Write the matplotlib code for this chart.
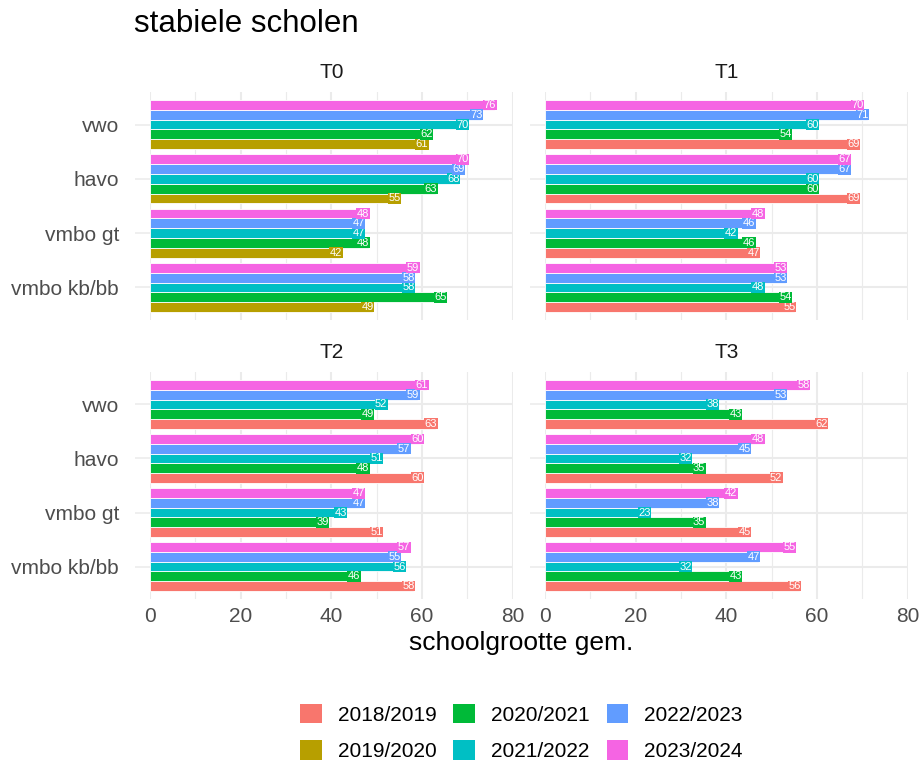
import numpy as np
import matplotlib
matplotlib.use("Agg")
import matplotlib.pyplot as plt
from matplotlib.patches import Patch

plt.rcParams["font.family"] = ["Liberation Sans", "DejaVu Sans"]

# data
categories = ["vmbo kb/bb", "vmbo gt", "havo", "vwo"]   # bottom -> top
years = ["2018/2019", "2019/2020", "2020/2021", "2021/2022", "2022/2023", "2023/2024"]
colors = ["#F8766D", "#B79F00", "#00BA38", "#00BFC4", "#619CFF", "#F564E3"]

panels = ["T0", "T1", "T2", "T3"]
panel_years = {
    "T0": ["2019/2020", "2020/2021", "2021/2022", "2022/2023", "2023/2024"],
    "T1": ["2018/2019", "2020/2021", "2021/2022", "2022/2023", "2023/2024"],
    "T2": ["2018/2019", "2020/2021", "2021/2022", "2022/2023", "2023/2024"],
    "T3": ["2018/2019", "2020/2021", "2021/2022", "2022/2023", "2023/2024"],
}
# rows follow categories (vmbo kb/bb, vmbo gt, havo, vwo), columns follow panel_years
t0 = [[49, 65, 58, 58, 59],
      [42, 48, 47, 47, 48],
      [55, 63, 68, 69, 70],
      [61, 62, 70, 73, 76]]
t1 = [[55, 54, 48, 53, 53],
      [47, 46, 42, 46, 48],
      [69, 60, 60, 67, 67],
      [69, 54, 60, 71, 70]]
t2 = [[58, 46, 56, 55, 57],
      [51, 39, 43, 47, 47],
      [60, 48, 51, 57, 60],
      [63, 49, 52, 59, 61]]
t3 = [[56, 43, 32, 47, 55],
      [45, 35, 23, 38, 42],
      [52, 35, 32, 45, 48],
      [62, 43, 38, 53, 58]]
values = {"T0": t0, "T1": t1, "T2": t2, "T3": t3}

fig = plt.figure(figsize=(9.21, 7.67), dpi=100)
W, H = 921, 767
PT = 72 / 100  # px -> pt

def ax_rect(x0, x1, y0, y1):
    return [x0 / W, 1 - y1 / H, (x1 - x0) / W, (y1 - y0) / H]

rects = {
    "T0": ax_rect(150, 512.5, 92, 320),
    "T1": ax_rect(545, 907.5, 92, 320),
    "T2": ax_rect(150, 512.5, 372, 599),
    "T3": ax_rect(545, 907.5, 372, 599),
}

grid_c = "#EBEBEB"
text_c = "#4D4D4D"
nbar = 5
bw = 0.9 / nbar
ypos = np.arange(1, len(categories) + 1)

for p in panels:
    ax = fig.add_axes(rects[p])
    ax.set_xlim(0, 80)
    ax.set_ylim(0.4, len(categories) + 0.6)
    for s in ax.spines.values():
        s.set_visible(False)
    for x in [10, 30, 50, 70]:
        ax.axvline(x, color=grid_c, lw=0.8, zorder=0)
    for x in [0, 20, 40, 60, 80]:
        ax.axvline(x, color=grid_c, lw=1.5, zorder=0)
    for y in ypos:
        ax.axhline(y, color=grid_c, lw=1.5, zorder=0)
    vals = np.array(values[p])
    for j, yr in enumerate(panel_years[p]):
        col = colors[years.index(yr)]
        yy = ypos - 0.45 + bw / 2 + j * bw
        ax.barh(yy, vals[:, j], height=bw, color=col, edgecolor="white",
                linewidth=0.6, zorder=2)
        for v, y in zip(vals[:, j], yy):
            ax.text(v + 0.4, y, str(v), ha="right", va="center", color="white",
                    fontsize=8, zorder=3,
                    bbox=dict(facecolor=col, edgecolor="none", pad=0.3))
    ax.annotate(p, xy=(0.5, 1), xycoords="axes fraction",
                xytext=(0, 19.5 * PT), textcoords="offset points",
                ha="center", va="center", fontsize=15, color="#1A1A1A")
    ax.tick_params(axis="x", length=0, labelsize=15, labelcolor=text_c,
                   pad=6)
    ax.tick_params(axis="y", length=15 * PT, width=1.5 * PT, color=grid_c,
                   labelsize=15, labelcolor=text_c, pad=11.5)
    ax.set_xticks([0, 20, 40, 60, 80])
    ax.set_yticks(ypos)
    if p in ("T0", "T2"):
        ax.set_yticklabels(categories)
    else:
        ax.set_yticklabels([])
    if p in ("T2", "T3"):
        ax.set_xticklabels(["0", "20", "40", "60", "80"])
    else:
        ax.set_xticklabels([])

fig.text(134 / W, 1 - 32 / H, "stabiele scholen", fontsize=22.5, ha="left",
         va="baseline", color="black")
fig.text(521 / W, 1 - 650 / H, "schoolgrootte gem.", fontsize=19,
         ha="center", va="baseline", color="black")

handles = [Patch(facecolor=c, edgecolor="none") for c in colors]
fig.legend(handles, years, loc="center", bbox_to_anchor=(521.5 / W, 1 - 732.5 / H),
           ncol=3, frameon=False, fontsize=15, handlelength=1.05,
           handleheight=1.05, columnspacing=0.8, handletextpad=0.77,
           labelspacing=0.75, borderpad=0)

fig.savefig("out.png", dpi=100, facecolor="white")
